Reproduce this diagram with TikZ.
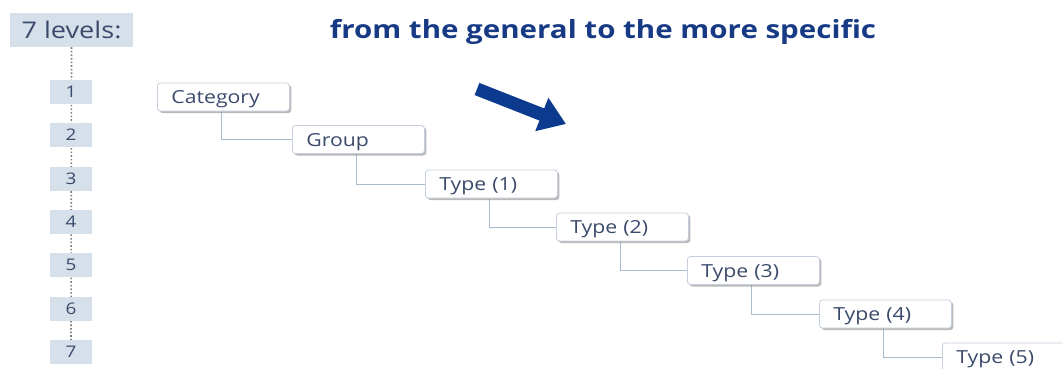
\documentclass[tikz,border=0pt]{standalone}
\usepackage{fontspec}
\setmainfont{Open Sans}[FakeStretch=1.18]
\usetikzlibrary{arrows.meta,shadows,backgrounds}
\definecolor{lvlfill}{HTML}{D6E0EA}
\definecolor{txt}{HTML}{3B4A6B}
\definecolor{boxborder}{HTML}{C5D0DC}
\definecolor{conn}{HTML}{A9BCCF}
\definecolor{navy}{HTML}{0B3A8E}
\definecolor{titleblue}{HTML}{173A85}
\tikzset{
  x=1pt, y=-1pt,
  lvlbox/.style={fill=lvlfill, draw=none, text=txt, minimum width=42pt, minimum height=24pt, inner sep=0pt,
    text height=11.5pt, text depth=0pt, font=\fontsize{16}{16}\selectfont},
  headbox/.style={fill=lvlfill, draw=none, text=txt, minimum width=123pt, minimum height=34pt, inner sep=0pt,
    text height=16.5pt, text depth=0pt, font=\fontsize{23}{23}\selectfont},
  stepbox/.style={fill=white, draw=boxborder, line width=0.8pt, rounded corners=3pt, text=txt,
    minimum height=28pt, text width=104pt, inner xsep=14pt, inner ysep=0pt, align=left,
    text height=13pt, text depth=0pt,
    anchor=west, font=\fontsize{18}{18}\selectfont,
    drop shadow={shadow xshift=2pt, shadow yshift=-2pt, fill=black!45, opacity=0.6}},
  linkline/.style={draw=conn, line width=1pt},
}
\begin{document}
\begin{tikzpicture}
\useasboundingbox (0,0) rectangle (1063,369);
% left column
\node[headbox] (lev) at (71.5,30) {7 levels:};
\node[lvlbox] (n1) at (71,92) {1};
\node[lvlbox] (n2) at (71,135) {2};
\node[lvlbox] (n3) at (71,178.5) {3};
\node[lvlbox] (n4) at (71,222) {4};
\node[lvlbox] (n5) at (71,265) {5};
\node[lvlbox] (n6) at (71,308.5) {6};
\node[lvlbox] (n7) at (71,352) {7};
\begin{scope}[on background layer]
\draw[gray, line width=1.6pt, dotted] (lev.south) -- (n7.north);
\end{scope}
% title
\node[text=titleblue, font=\bfseries\fontsize{25}{25}\selectfont] (title) at (603,32) {from the general to the more specific};
% arrow
\coordinate (a1) at (477,89);
\coordinate (a2) at (566,124);
\draw[navy, line width=13pt, -{Triangle[length=26pt,width=34pt]}] (a1) -- (a2);
% steps
\node[stepbox] (s0) at (157,97) {Category};
\node[stepbox] (s1) at (292,139.5) {Group};
\node[stepbox] (s2) at (425,184) {Type (1)};
\node[stepbox] (s3) at (556,227) {Type (2)};
\node[stepbox] (s4) at (687,270.5) {Type (3)};
\node[stepbox] (s5) at (819,314) {Type (4)};
\node[stepbox] (s6) at (942,357) {Type (5)};
\begin{scope}[on background layer]
\foreach \a/\b in {s0/s1,s1/s2,s2/s3,s3/s4,s4/s5,s5/s6}{
  \draw[linkline] ([xshift=64pt]\a.south west) |- (\b.west);
}
\end{scope}
\end{tikzpicture}
\end{document}
